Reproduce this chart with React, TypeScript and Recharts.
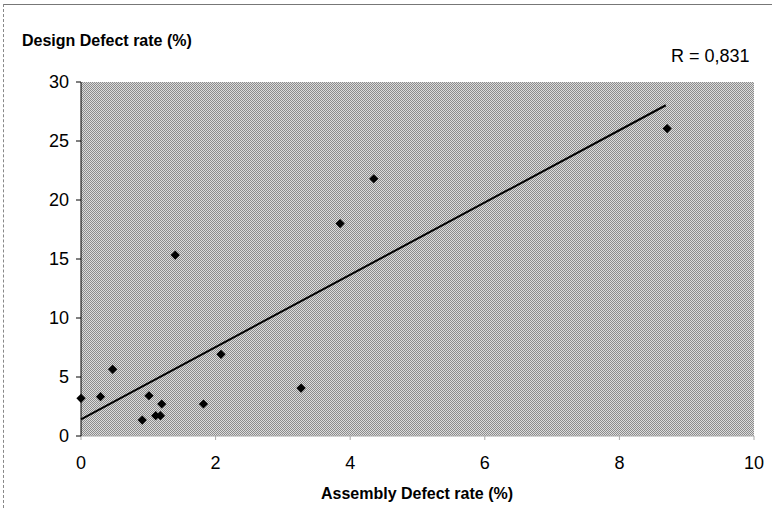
import React from 'react';
import { ScatterChart, Scatter, XAxis, YAxis, CartesianGrid } from 'recharts';

// Assembly defect rate (%) vs design defect rate (%)
const assemblyRate = [0, 0.29, 1.01, 1.2, 0.91, 1.11, 1.18, 1.82, 0.47, 1.4, 2.08, 3.27, 3.85, 4.35, 8.71];
const designRate = [3.19, 3.33, 3.41, 2.71, 1.35, 1.72, 1.72, 2.71, 5.65, 15.33, 6.92, 4.06, 18.0, 21.8, 26.05];

// trend line endpoints
const trendX = [0, 8.69];
const trendY = [1.41, 28.03];

const xTicks = [0, 2, 4, 6, 8, 10];
const yTicks = [0, 5, 10, 15, 20, 25, 30];

const points = assemblyRate.map((x, i) => ({ x, y: designRate[i] }));
const trend = trendX.map((x, i) => ({ x, y: trendY[i] }));

const FONT = '"Liberation Sans", Arial, sans-serif';

const Diamond = (props: any) => {
  const { cx, cy } = props;
  const r = 4.6;
  return (
    <polygon
      points={`${cx},${cy - r} ${cx + r},${cy} ${cx},${cy + r} ${cx - r},${cy}`}
      fill="#000"
    />
  );
};

const NoDot = () => <g />;

export default function App() {
  return (
    <div style={{ position: 'relative', width: 772, height: 519, background: '#fff', fontFamily: FONT }}>
      <style>{'body{margin:0}'}</style>
      <ScatterChart
        width={772}
        height={519}
        margin={{ top: 82, right: 18, bottom: 43, left: 0 }}
      >
        <defs>
          <pattern id="dither" width="2" height="2" patternUnits="userSpaceOnUse">
            <rect x="0" y="0" width="2" height="2" fill="#dcdcdc" />
            <rect x="0" y="0" width="1" height="1" fill="#8c8c8c" />
            <rect x="1" y="1" width="1" height="1" fill="#8c8c8c" />
          </pattern>
        </defs>
        <CartesianGrid horizontal={false} vertical={false} fill="url(#dither)" stroke="none" />
        <XAxis
          type="number"
          dataKey="x"
          domain={[0, 10]}
          ticks={xTicks}
          stroke="#aaa"
          tickSize={4}
          tickMargin={16}
          height={40}
          tick={{ fill: '#000', fontSize: 18, fontFamily: FONT }}
        />
        <YAxis
          type="number"
          dataKey="y"
          domain={[0, 30]}
          ticks={yTicks}
          stroke="#000"
          tickSize={5}
          tickMargin={7}
          width={81}
          tick={{ fill: '#000', fontSize: 18, fontFamily: FONT }}
        />
        <Scatter
          data={trend}
          line={{ stroke: '#000', strokeWidth: 2 }}
          shape={NoDot}
          isAnimationActive={false}
        />
        <Scatter data={points} shape={Diamond} isAnimationActive={false} />
      </ScatterChart>

      {/* frame edges */}
      <div style={{ position: 'absolute', left: 3, top: 4, width: 769, height: 0, borderTop: '1px solid #777' }} />
      <div style={{ position: 'absolute', left: 3, top: 4, width: 0, height: 504, borderLeft: '1px dashed #888' }} />

      <div style={{ position: 'absolute', left: 22, top: 32, fontSize: 16, fontWeight: 'bold', color: '#000', whiteSpace: 'nowrap' }}>
        Design Defect rate (%)
      </div>
      <div style={{ position: 'absolute', left: 671, top: 46, fontSize: 18, color: '#000', whiteSpace: 'nowrap' }}>
        R = 0,831
      </div>
      <div style={{ position: 'absolute', left: 0, width: 834, top: 485, textAlign: 'center', fontSize: 16, fontWeight: 'bold', color: '#000', whiteSpace: 'nowrap' }}>
        Assembly Defect rate (%)
      </div>
    </div>
  );
}
